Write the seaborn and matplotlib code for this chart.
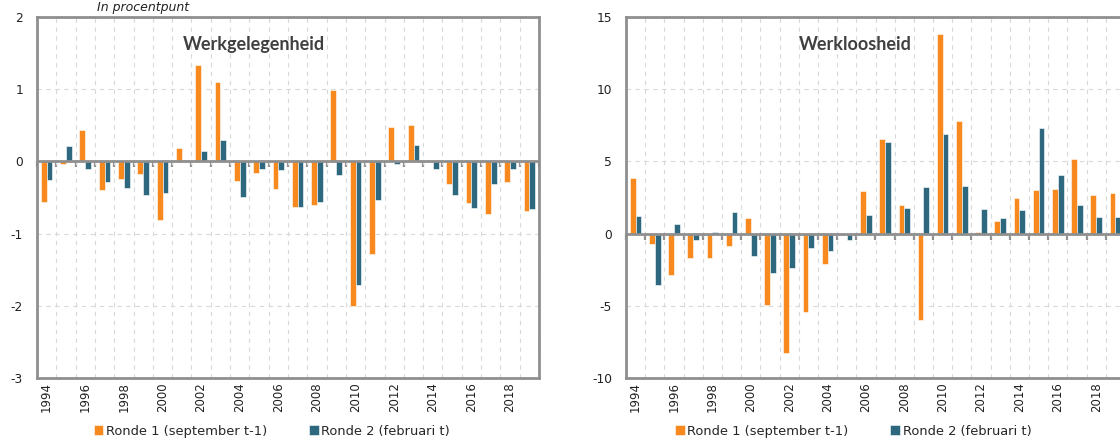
import numpy as np
import pandas as pd
import matplotlib
matplotlib.use("Agg")
import matplotlib.pyplot as plt
import seaborn as sns

years = list(range(1994, 2020))
series_names = ["Ronde 1 (september t-1)", "Ronde 2 (februari t)"]

werk_r1 = [-0.56, -0.04, 0.43, -0.39, -0.25, -0.18, -0.81, 0.19, 1.34, 1.10,
           -0.27, -0.16, -0.38, -0.63, -0.61, 0.99, -2.00, -1.28, 0.48, 0.51,
           0.02, -0.31, -0.57, -0.73, -0.28, -0.69]
werk_r2 = [-0.26, 0.22, -0.10, -0.28, -0.37, -0.47, -0.44, 0.02, 0.14, 0.30,
           -0.50, -0.10, -0.12, -0.63, -0.56, -0.19, -1.71, -0.54, -0.04, 0.23,
           -0.11, -0.47, -0.64, -0.31, -0.10, -0.66]

wl_r1 = [3.86, -0.72, -2.86, -1.66, -1.69, -0.88, 1.11, -4.92, -8.30, -5.40,
         -2.12, 0.0, 2.93, 6.58, 1.99, -5.96, 13.79, 7.78, 0.14, 0.90,
         2.47, 3.03, 3.09, 5.17, 2.70, 2.84]
wl_r2 = [1.20, -3.53, 0.69, -0.46, 0.14, 1.50, -1.55, -2.75, -2.38, -1.02,
         -1.20, -0.42, 1.32, 6.37, 1.80, 3.23, 6.93, 3.28, 1.73, 1.11,
         1.64, 7.34, 4.09, 2.01, 1.15, 1.18]

titles = ["Werkgelegenheid", "Werkloosheid"]
subtitle = "In procentpunt"
ylims = [(-3, 2), (-10, 15)]
ysteps = [1, 5]

ORANGE = "#F7891F"
TEAL = "#2D687F"
GRAY = "#8F8F8F"
TXT = "#404040"


def long_df(r1, r2):
    return pd.DataFrame({
        "jaar": [str(y) for y in years] * 2,
        "waarde": list(r1) + list(r2),
        "reeks": [series_names[0]] * len(years) + [series_names[1]] * len(years),
    })


sns.set_theme(style="white")
plt.rcParams["font.family"] = ["DejaVu Sans"]

fig = plt.figure(figsize=(11.2, 4.41), dpi=100)
positions = [[37 / 1120, 1 - 378 / 441, (539 - 37) / 1120, (378 - 17) / 441],
             [626 / 1120, 1 - 378 / 441, (1125 - 626) / 1120, (378 - 17) / 441]]
title_x = [0.432, 0.459]
legend_x = [0.468, 0.455]

datasets = [(werk_r1, werk_r2), (wl_r1, wl_r2)]
n = len(years)
for i, (r1, r2) in enumerate(datasets):
    ax = fig.add_axes(positions[i])
    df = long_df(r1, r2)
    sns.barplot(data=df, x="jaar", y="waarde", hue="reeks",
                palette=[ORANGE, TEAL], saturation=1, width=0.6, ax=ax,
                edgecolor="white", linewidth=0.4, legend=True, zorder=3)
    lo, hi = ylims[i]
    ax.set_ylim(lo, hi)
    ax.set_xlim(-0.5, n - 0.5)
    ax.set_yticks(np.arange(lo, hi + 0.001, ysteps[i]))
    ax.set_yticklabels([f"{int(v)}" for v in np.arange(lo, hi + 0.001, ysteps[i])],
                       fontsize=8.8, color="#222222")
    ax.set_xticks(range(0, n, 2))
    ax.set_xticklabels([str(y) for y in years[::2]], rotation=90,
                       fontsize=8.5, color="#222222")
    ax.set_xticks(np.arange(-0.5, n, 1), minor=True)
    ax.tick_params(axis="x", which="major", length=0, pad=3)
    ax.tick_params(axis="x", which="minor", direction="in", length=3,
                   color="#BBBBBB", width=0.8)
    ax.tick_params(axis="y", which="major", direction="out", length=4,
                   color=GRAY, width=1.2, pad=6)
    ax.set_xlabel("")
    ax.set_ylabel("")
    ax.grid(False)
    ax.grid(axis="x", which="minor", linestyle=(0, (4, 4)), color="#D9D9D9",
            linewidth=0.8, zorder=0)
    ax.grid(axis="y", which="major", linestyle=(0, (4, 4)), color="#D9D9D9",
            linewidth=0.8, zorder=0)
    ax.set_axisbelow(True)
    for s in ax.spines.values():
        s.set_color(GRAY)
        s.set_linewidth(2)
    ax.axhline(0, color=GRAY, linewidth=2, zorder=4)
    zero_frac = (0 - lo) / (hi - lo)
    sec = ax.secondary_xaxis(zero_frac)
    sec.set_xticks(np.arange(-0.5, n, 1))
    sec.set_xticklabels([])
    for s in sec.spines.values():
        s.set_visible(False)
    sec.xaxis.set_ticks_position("bottom")
    sec.tick_params(axis="x", which="both", direction="out", length=4,
                    width=1.6, color="#909090", top=False, bottom=True,
                    labeltop=False, labelbottom=False)
    sec.tick_params(axis="x", which="minor", length=0)
    ax.text(title_x[i], 0.925, titles[i], transform=ax.transAxes, ha="center",
            va="center", fontsize=13, fontweight="bold", color=TXT,
            family="Lato", zorder=5)
    h, l = ax.get_legend_handles_labels()
    ax.legend(h, l, loc="center", bbox_to_anchor=(legend_x[i], -0.147),
              ncol=2, frameon=False, fontsize=9.4, handlelength=0.75,
              handleheight=0.75, handletextpad=0.2, columnspacing=3.2,
              borderaxespad=0, borderpad=0)

fig.text(97 / 1120, 1 - 1 / 441, subtitle, ha="left", va="top",
         fontsize=9, style="italic", color="#222222")

fig.savefig("out.png", dpi=100)
